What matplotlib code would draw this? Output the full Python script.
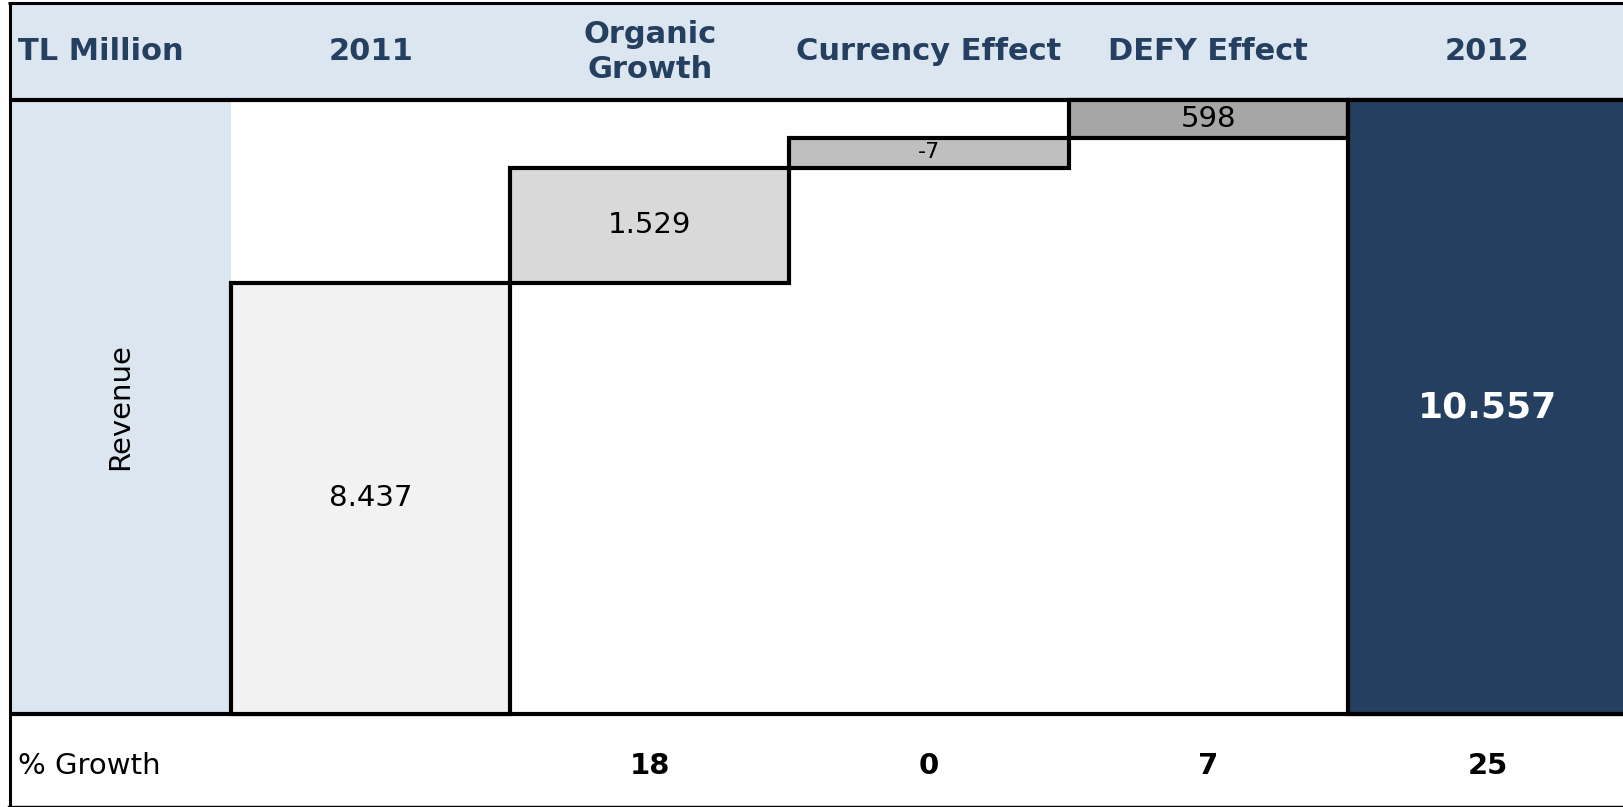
import numpy as np
import matplotlib.pyplot as plt
from matplotlib.patches import Rectangle
from matplotlib.transforms import blended_transform_factory

# data
categories = ['2011', 'Organic\nGrowth', 'Currency Effect', 'DEFY Effect', '2012']
revenue = [8437, 1529, -7, 598, 10557]
growth = [None, 18, 0, 7, 25]
# the original waterfall is not drawn to scale, so the step heights are read off the picture
drawn_steps = [431.5, 115, 30, 37.5]

fills = ['#f2f2f2', '#d9d9d9', '#bfbfbf', '#a6a6a6', '#253f61']
navy = '#253f61'
light_blue = '#dce6f1'

W, H = 1623, 807
fig = plt.figure(figsize=(W / 100, H / 100), dpi=100)

# background table, in pixel units
bg = fig.add_axes([0, 0, 1, 1], zorder=0)
bg.set_xlim(0, W)
bg.set_ylim(H, 0)
bg.axis('off')

header_y = 100
bottom_y = 714
col_left = 231
col_right = W + 4   # last column runs past the edge of the picture

bg.add_patch(Rectangle((9.5, 3), W, header_y - 3, color=light_blue, lw=0))
bg.add_patch(Rectangle((9.5, header_y), col_left - 9.5, bottom_y - header_y, color=light_blue, lw=0))
bg.plot([9.5, W], [header_y, header_y], color='black', lw=3, solid_capstyle='butt')
bg.plot([9.5, W], [bottom_y, bottom_y], color='black', lw=3, solid_capstyle='butt')
bg.plot([9.5, 9.5], [2, 806], color='black', lw=2.2, solid_capstyle='butt')
bg.plot([8, W], [3, 3], color='black', lw=2.2, solid_capstyle='butt')
bg.plot([8, W], [806, 806], color='black', lw=1)

bg.text(18, 52, 'TL Million', fontsize=22, fontweight='bold', color=navy, ha='left', va='center')
bg.text(120.5, 407, 'Revenue', fontsize=21, rotation=90, ha='center', va='center')
bg.text(18, 766, '% Growth', fontsize=21, ha='left', va='center')

# waterfall
ax = fig.add_axes([col_left / W, (H - bottom_y) / H, (col_right - col_left) / W, (bottom_y - header_y) / H],
                  zorder=1)
ax.patch.set_alpha(0)
ax.axis('off')

x = np.arange(len(categories))
total = sum(drawn_steps)
bottoms = list(np.concatenate([[0], np.cumsum(drawn_steps)[:-1]])) + [0]
heights = drawn_steps + [total]

ax.bar(x, heights, bottom=bottoms, width=1, color=fills, edgecolor='black', linewidth=3, clip_on=False)
ax.set_xlim(-0.5, len(categories) - 0.5)
ax.set_ylim(0, total)

for i, v in enumerate(revenue):
    label = f'{v:,}'.replace(',', '.')
    yc = bottoms[i] + heights[i] / 2
    if i == len(revenue) - 1:
        ax.text(x[i], yc, label, fontsize=26, fontweight='bold', color='white', ha='center', va='center')
    elif v < 0:
        ax.text(x[i], yc, label, fontsize=16, ha='center', va='center', clip_on=False)
    else:
        ax.text(x[i], yc, label, fontsize=21, ha='center', va='center')

# header labels and growth row sit over the category columns
tr = blended_transform_factory(ax.transData, fig.transFigure)
for i, c in enumerate(categories):
    ax.text(x[i], (H - 52) / H, c, transform=tr, fontsize=22, fontweight='bold', color=navy,
            ha='center', va='center', linespacing=1.3)
    if growth[i] is not None:
        ax.text(x[i], (H - 766) / H, str(growth[i]), transform=tr, fontsize=21, fontweight='bold',
                ha='center', va='center')

fig.savefig('out.png', dpi=100)
